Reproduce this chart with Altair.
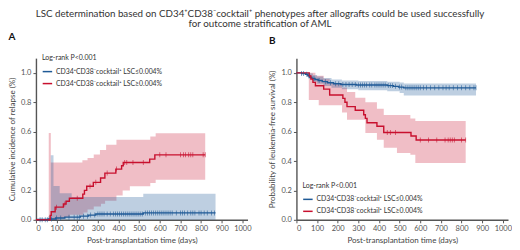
import altair as alt
import pandas as pd

RED = "#c8102e"
BLUE = "#1f5a96"
FONT = "Lato"

LBL_LOW = "CD34⁺CD38⁻cocktail⁺ LSC≤0.004%"
LBL_HIGH = "CD34⁺CD38⁻cocktail⁺ LSC≥0.004%"

# ---------------- Panel A: cumulative incidence of relapse ----------------
a_red_t = [0, 69, 74, 93, 133, 146, 162, 227, 235, 246, 278, 313, 334, 387, 415, 423, 551, 576, 820]
a_red_v = [0, 0.03, 0.055, 0.086, 0.108, 0.126, 0.147, 0.175, 0.2, 0.228, 0.255, 0.284, 0.318,
           0.345, 0.368, 0.39, 0.413, 0.442, 0.442]
a_blue_t = [0, 60, 95, 140, 215, 255, 290, 520, 870]
a_blue_v = [0, 0.006, 0.012, 0.018, 0.025, 0.032, 0.04, 0.047, 0.047]

a_redband_t = [62, 72, 110, 140, 165, 225, 230, 250, 280, 310, 315, 335, 340, 390, 420, 455, 554, 580, 820]
a_redband_hi = [0.59, 0.39, 0.39, 0.39, 0.39, 0.405, 0.405, 0.42, 0.445, 0.475, 0.475, 0.475, 0.51,
                0.545, 0.545, 0.545, 0.566, 0.589, 0.589]
a_redband_lo = [0, 0, 0.01, 0.02, 0.035, 0.035, 0.05, 0.07, 0.09, 0.09, 0.11, 0.13, 0.13, 0.165,
                0.2, 0.228, 0.25, 0.273, 0.273]
a_blueband_t = [5, 60, 72, 85, 115, 173, 520, 870]
a_blueband_hi = [0.012, 0.025, 0.44, 0.23, 0.18, 0.155, 0.178, 0.178]
a_blueband_lo = [0, 0, 0, 0, 0, 0, 0, 0]

a_red_cens = [100, 140, 200, 262, 290, 345, 390, 430, 440, 470, 520, 600, 630, 700, 715, 725,
              740, 750, 760, 810, 820]
a_blue_cens = [20, 30, 45, 55, 75, 100, 120, 160, 185, 200, 210, 230, 250, 265, 285, 300, 310, 320,
               330, 345, 360, 375, 385, 395, 405, 415, 425, 435, 445, 455, 465, 475, 485, 495, 505,
               515, 530, 540, 550, 560, 570, 580, 590, 600, 610, 620, 630, 640, 650, 660, 680, 700,
               710, 720, 735, 750, 760, 770, 790, 800, 815, 830, 850, 865]

# ---------------- Panel B: leukemia-free survival ----------------
b_red_t = [0, 62, 70, 80, 92, 132, 161, 225, 235, 245, 285, 326, 334, 342, 390, 423, 555, 580, 820]
b_red_v = [1.0, 0.978, 0.957, 0.935, 0.912, 0.889, 0.849, 0.826, 0.80, 0.77, 0.745, 0.715, 0.69,
           0.66, 0.637, 0.594, 0.57, 0.543, 0.543]
b_blue_t = [0, 25, 45, 55, 65, 75, 90, 105, 125, 150, 180, 215, 290, 440, 470, 495, 520, 870]
b_blue_v = [1.0, 0.995, 0.99, 0.98, 0.97, 0.962, 0.955, 0.948, 0.94, 0.933, 0.926, 0.921, 0.917,
            0.913, 0.908, 0.903, 0.898, 0.898]

b_redband_t = [60, 92, 108, 132, 161, 221, 245, 285, 334, 390, 423, 487, 552, 576, 820]
b_redband_hi = [1.0, 0.98, 0.98, 0.96, 0.93, 0.9, 0.87, 0.83, 0.80, 0.755, 0.713, 0.713, 0.69, 0.673, 0.673]
b_redband_lo = [0.815, 0.815, 0.78, 0.78, 0.78, 0.73, 0.68, 0.68, 0.59, 0.544, 0.49, 0.455, 0.442,
                0.386, 0.386]
b_blueband_t = [0, 40, 60, 80, 100, 130, 170, 220, 300, 440, 500, 520, 870]
b_blueband_hi = [1.0, 1.0, 0.995, 0.985, 0.975, 0.965, 0.955, 0.948, 0.945, 0.94, 0.935, 0.928, 0.928]
b_blueband_lo = [1.0, 0.985, 0.962, 0.94, 0.925, 0.91, 0.898, 0.888, 0.882, 0.875, 0.862, 0.845, 0.845]

b_red_cens = [440, 455, 480, 600, 640, 680, 720, 735, 745, 755, 765, 800, 820]
b_blue_cens = [25, 35, 50, 60, 85, 110, 140, 165, 190, 205, 225, 240, 255, 270, 285, 300, 310, 320,
               330, 340, 355, 365, 380, 390, 400, 410, 420, 430, 445, 455, 465, 480, 500, 510, 530,
               540, 550, 560, 570, 580, 590, 600, 615, 630, 650, 670, 690, 710, 725, 740, 760, 780,
               800, 820, 840, 860, 870]

X_TICKS = list(range(0, 1001, 100))
Y_TICKS = [0, 0.2, 0.4, 0.6, 0.8, 1.0]


def step_at(ts, vs, t):
    val = vs[0]
    for ti, vi in zip(ts, vs):
        if ti <= t:
            val = vi
    return val


def panel(red_t, red_v, blue_t, blue_v, rb_t, rb_lo, rb_hi, bb_t, bb_lo, bb_hi,
          red_c, blue_c, xtitle, ytitle, letter, leg_y):
    lines = pd.DataFrame(
        [{"t": t, "v": v, "g": LBL_LOW} for t, v in zip(blue_t, blue_v)]
        + [{"t": t, "v": v, "g": LBL_HIGH} for t, v in zip(red_t, red_v)]
    )
    rband = pd.DataFrame({"t": rb_t, "lo": rb_lo, "hi": rb_hi})
    bband = pd.DataFrame({"t": bb_t, "lo": bb_lo, "hi": bb_hi})
    rcens = pd.DataFrame({"t": red_c, "v": [step_at(red_t, red_v, t) for t in red_c]})
    bcens = pd.DataFrame({"t": blue_c, "v": [step_at(blue_t, blue_v, t) for t in blue_c]})

    xs = alt.Scale(domain=[0, 1025], nice=False)
    ys = alt.Scale(domain=[0, 1.1], nice=False)
    xax = alt.Axis(values=X_TICKS, format="d", title=xtitle, grid=False, labelOverlap=False)
    yax = alt.Axis(values=Y_TICKS, format=".1f", title=ytitle, grid=False, labelOverlap=False)

    rb = alt.Chart(rband).mark_area(interpolate="step-after", color=RED, opacity=0.27).encode(
        x=alt.X("t:Q", scale=xs, axis=xax),
        y=alt.Y("lo:Q", scale=ys, axis=yax),
        y2="hi:Q",
    )
    bb = alt.Chart(bband).mark_area(interpolate="step-after", color=BLUE, opacity=0.29).encode(
        x=alt.X("t:Q", scale=xs, axis=xax), y=alt.Y("lo:Q", scale=ys, axis=yax), y2="hi:Q"
    )
    ln = alt.Chart(lines).mark_line(interpolate="step-after", strokeWidth=1.4).encode(
        x=alt.X("t:Q", scale=xs, axis=xax),
        y=alt.Y("v:Q", scale=ys, axis=yax),
        color=alt.Color(
            "g:N",
            scale=alt.Scale(domain=[LBL_LOW, LBL_HIGH], range=[BLUE, RED]),
            legend=alt.Legend(
                title="Log-rank P<0.001", orient="none", legendX=6, legendY=leg_y,
                symbolType="stroke", symbolSize=90, symbolStrokeWidth=1.5,
                titleFontSize=7, titleFontWeight="normal", titleColor="#333",
                titleFont=FONT, titlePadding=5, labelFont=FONT, labelFontSize=6.9,
                labelColor="#333", rowPadding=3, labelOffset=3,
            ),
        ),
        detail="g:N",
    )
    rc = alt.Chart(rcens).mark_tick(color=RED, orient="vertical", size=5, thickness=0.8).encode(
        x=alt.X("t:Q", scale=xs, axis=xax), y=alt.Y("v:Q", scale=ys, axis=yax)
    )
    bc = alt.Chart(bcens).mark_tick(color=BLUE, orient="vertical", size=5, thickness=0.8).encode(
        x=alt.X("t:Q", scale=xs, axis=xax), y=alt.Y("v:Q", scale=ys, axis=yax)
    )
    return alt.layer(rb, bb, ln, rc, bc).properties(
        width=212, height=162,
        title=alt.TitleParams(letter, anchor="start", frame="bounds", fontSize=10,
                              fontWeight="bold", font=FONT, color="#111", offset=12),
    )


pa = panel(a_red_t, a_red_v, a_blue_t, a_blue_v, a_redband_t, a_redband_lo, a_redband_hi,
           a_blueband_t, a_blueband_lo, a_blueband_hi, a_red_cens, a_blue_cens,
           "Post-transplantation time (days)", "Cumulative incidence of relapse (%)", "A", -4)
pb = panel(b_red_t, b_red_v, b_blue_t, b_blue_v, b_redband_t, b_redband_lo, b_redband_hi,
           b_blueband_t, b_blueband_lo, b_blueband_hi, b_red_cens, b_blue_cens,
           "Post-transplantation time (days)", "Probability of leukemia-free survival (%)", "B", 124)

chart = alt.hconcat(pa, pb, spacing=17).resolve_scale(color="independent").resolve_legend(
    color="independent"
).properties(
    title=alt.TitleParams(
        ["LSC determination based on CD34⁺CD38⁻cocktail⁺ phenotypes after allografts could be used successfully",
         "for outcome stratification of AML"],
        anchor="middle", fontSize=9.8, fontWeight="normal", font=FONT, color="#333",
        lineHeight=10.5, offset=3,
    ),
    padding={"left": 0, "top": 0, "right": 0, "bottom": 0},
).configure_view(stroke=None).configure_axis(
    domainColor="#555", domainWidth=1.4, tickColor="#555", tickSize=3, labelColor="#555",
    labelFont=FONT, labelFontSize=7.5, titleFont=FONT, titleFontSize=8, titleFontWeight="normal",
    titleColor="#444", labelPadding=2, titlePadding=4, labelOverlap=False,
)

chart.save("out.html", embed_options={"renderer": "svg", "actions": False})
